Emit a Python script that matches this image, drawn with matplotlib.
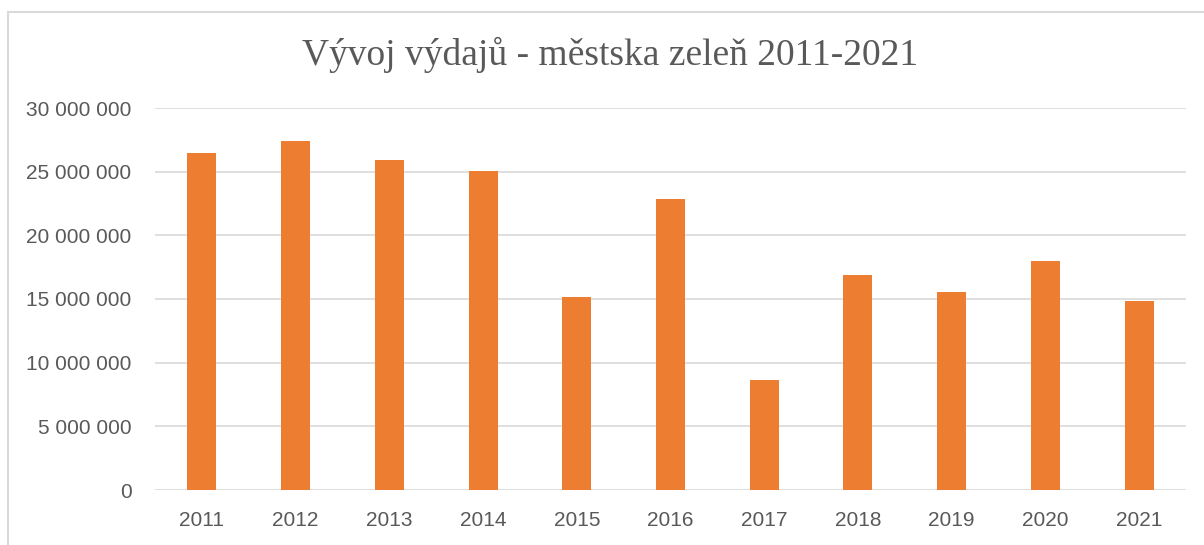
import matplotlib.pyplot as plt
from matplotlib.patches import Rectangle
from matplotlib.ticker import FuncFormatter

years = ["2011", "2012", "2013", "2014", "2015", "2016",
         "2017", "2018", "2019", "2020", "2021"]
spending = [26.47e6, 27.41e6, 25.92e6, 25.06e6, 15.18e6, 22.86e6,
            8.66e6, 16.90e6, 15.55e6, 18.00e6, 14.85e6]
yticks = [0, 5e6, 10e6, 15e6, 20e6, 25e6, 30e6]

W, H = 1204, 545
fig = plt.figure(figsize=(W / 100, H / 100), dpi=100)
ax = fig.add_axes([155 / W, 55 / H, 1031 / W, 382 / H])

# chart frame (cropped at right and bottom like the screenshot)
fig.add_artist(Rectangle((8 / W, -0.1), 1.2, 1.1 - 12 / H, transform=fig.transFigure,
                         fill=False, edgecolor="#d9d9d9", linewidth=1.5))

ax.bar(range(len(years)), spending, width=0.31, color="#ed7d31", zorder=3)

ax.set_xlim(-0.5, len(years) - 0.5)
ax.set_ylim(0, 30e6)
ax.set_yticks(yticks)
ax.yaxis.set_major_formatter(FuncFormatter(lambda v, p: f"{int(v):,}".replace(",", " ")))
ax.set_xticks(range(len(years)))
ax.set_xticklabels(years)
ax.grid(axis="y", color="#d9d9d9", linewidth=1.2, zorder=0)
for s in ax.spines.values():
    s.set_visible(False)
ax.tick_params(length=0, labelsize=15, labelcolor="#595959")
ax.tick_params(axis="y", pad=17)
ax.tick_params(axis="x", pad=15)
for lbl in ax.get_xticklabels() + ax.get_yticklabels():
    lbl.set_family("Liberation Sans")

fig.text(610 / W, 1 - 55 / H, "Vývoj výdajů - městska zeleň 2011-2021",
         ha="center", va="center", fontsize=27, color="#595959",
         family="Liberation Serif")

fig.savefig("out.png", dpi=100)
